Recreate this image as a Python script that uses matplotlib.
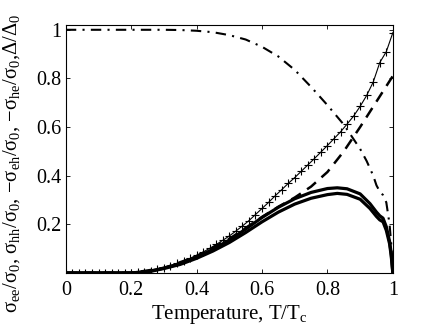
import matplotlib
matplotlib.use("Agg")
import matplotlib.pyplot as plt

plt.rcParams['font.family'] = ['Liberation Serif', 'DejaVu Serif']
plt.rcParams['mathtext.fontset'] = 'custom'
plt.rcParams['mathtext.rm'] = 'Liberation Serif'
plt.rcParams['mathtext.it'] = 'Liberation Serif:italic'

# sigma_ee / sigma_0 (crosses)
T_ee = [0.00, 0.02, 0.04, 0.06, 0.08, 0.10, 0.12, 0.14, 0.16, 0.18,
        0.20, 0.22, 0.24, 0.26, 0.28, 0.30, 0.32, 0.34, 0.36, 0.38,
        0.40, 0.42, 0.44, 0.46, 0.48, 0.50, 0.52, 0.54, 0.56, 0.58,
        0.60, 0.62, 0.64, 0.66, 0.68, 0.70, 0.72, 0.74, 0.76, 0.78,
        0.80, 0.82, 0.84, 0.86, 0.88, 0.90, 0.92, 0.94, 0.96, 0.98, 1.00]
s_ee = [0.0, 0.0, 0.0, 0.0, 0.0, 0.0, 0.0, 0.0, 0.0, 0.0,
        0.0, 0.002, 0.005, 0.009, 0.015, 0.022, 0.030, 0.039, 0.049, 0.060,
        0.073, 0.086, 0.101, 0.117, 0.134, 0.152, 0.172, 0.193, 0.215, 0.240,
        0.265, 0.290, 0.317, 0.342, 0.368, 0.392, 0.418, 0.444, 0.470, 0.497,
        0.524, 0.552, 0.580, 0.612, 0.645, 0.685, 0.730, 0.785, 0.865, 0.910, 0.988]

# dashed curve
T_d = [0.0, 0.2, 0.3, 0.4, 0.5, 0.6, 0.65, 0.7, 0.75, 0.8, 0.85, 0.9, 0.95, 1.0]
s_d = [0.0, 0.0, 0.02, 0.068, 0.14, 0.23, 0.272, 0.31, 0.355, 0.415, 0.5, 0.6, 0.705, 0.81]

# two thick solid curves
T_s = [0.0, 0.1, 0.2, 0.25, 0.3, 0.35, 0.4, 0.45, 0.5, 0.55, 0.6, 0.65, 0.7, 0.75,
       0.8, 0.83, 0.86, 0.9, 0.93, 0.95, 0.96, 0.97, 0.98, 0.99, 0.995, 1.0]
s_1 = [0.0, 0.0, 0.0, 0.005, 0.02, 0.038, 0.065, 0.097, 0.135, 0.18, 0.228, 0.27,
       0.305, 0.331, 0.347, 0.35, 0.346, 0.325, 0.285, 0.25, 0.235, 0.225, 0.19, 0.13, 0.08, 0.0]
s_2 = [0.0, 0.0, 0.0, 0.004, 0.018, 0.035, 0.06, 0.09, 0.125, 0.166, 0.21, 0.25,
       0.283, 0.307, 0.322, 0.327, 0.323, 0.303, 0.265, 0.232, 0.218, 0.21, 0.175, 0.12, 0.07, 0.0]

# gap Delta/Delta_0 (dash-dot)
T_g = [0.0, 0.1, 0.2, 0.3, 0.35, 0.4, 0.45, 0.5, 0.55, 0.6, 0.65, 0.7, 0.75, 0.8,
       0.85, 0.9, 0.92, 0.94, 0.95, 0.96, 0.97, 0.98, 0.99, 0.995, 1.0]
gap = [1.0, 1.0, 1.0, 1.0, 0.999, 0.996, 0.99, 0.978, 0.96, 0.93, 0.89, 0.835, 0.765, 0.69,
       0.61, 0.51, 0.46, 0.40, 0.36, 0.335, 0.32, 0.29, 0.2, 0.12, 0.0]

xticks = [0, 0.2, 0.4, 0.6, 0.8, 1]
xticklabels = ['0', '0.2', '0.4', '0.6', '0.8', '1']
yticks = [0.2, 0.4, 0.6, 0.8, 1]
yticklabels = ['0.2', '0.4', '0.6', '0.8', '1']

fig = plt.figure(figsize=(4.36, 3.28), dpi=100)
ax = fig.add_axes([0.151, 0.168, 0.750, 0.756])

ax.plot(T_ee, s_ee, '-', color='black', lw=0.8, marker='+', ms=5.5, mew=0.8)
ax.plot(T_d, s_d, '--', color='black', lw=1.8, dashes=(4.5, 3))
ax.plot(T_s, s_1, '-', color='black', lw=2.3)
ax.plot(T_s, s_2, '-', color='black', lw=2.3)
ax.plot(T_g, gap, '-.', color='black', lw=1.5, dashes=(5, 3, 1, 3))

ax.set_xlim(0, 1)
ax.set_ylim(0, 1.02)
ax.set_xticks(xticks)
ax.set_xticklabels(xticklabels)
ax.set_yticks(yticks)
ax.set_yticklabels(yticklabels)
ax.tick_params(direction='in', top=True, right=True, labelsize=14.5, length=3, width=0.6)
ax.tick_params(axis='x', pad=6)
ax.tick_params(axis='y', pad=3)
for sp in ax.spines.values():
    sp.set_linewidth(0.8)

ax.set_xlabel('Temperature, T/T$_{\\rm c}$', fontsize=15, labelpad=2)
ax.set_ylabel('σ$_{\\rm ee}$/σ$_0$, σ$_{\\rm hh}$/σ$_0$, −σ$_{\\rm eh}$/σ$_0$, −σ$_{\\rm he}$/σ$_0$,Δ/Δ$_0$',
              fontsize=14.8, va='center', ha='center')
ax.yaxis.set_label_coords(-0.165, 0.44)

fig.savefig('out.png', dpi=100)
